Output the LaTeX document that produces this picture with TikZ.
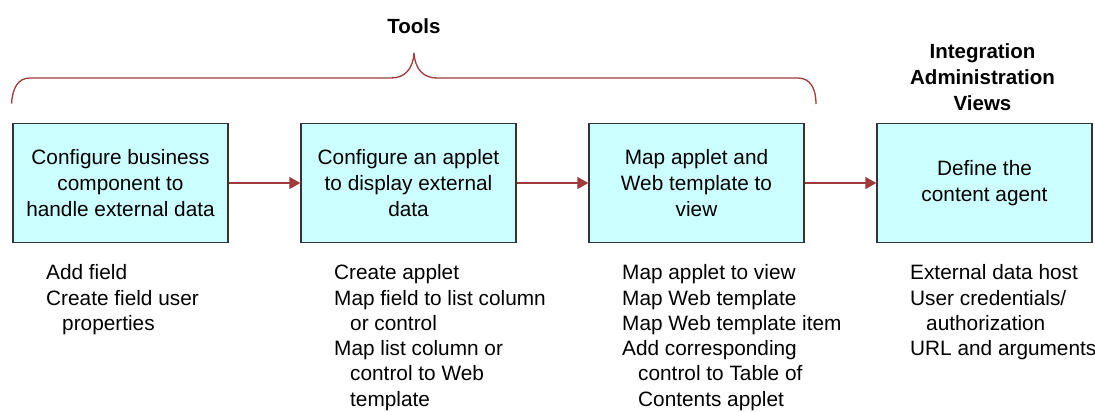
\documentclass[tikz,border=0pt]{standalone}
\usepackage{fontspec}
\setmainfont{Liberation Sans}
\usepackage{tikz}
\usetikzlibrary{arrows.meta}
\definecolor{boxfill}{HTML}{CCFFFF}
\definecolor{boxline}{HTML}{333333}
\definecolor{linered}{HTML}{9E3A3A}
\tikzstyle{block} = [rectangle, draw=boxline, fill=boxfill, align=center,
minimum width=215pt, minimum height=119pt, node distance=288pt, line width=1.3pt,
font=\fontsize{20.8}{26}\selectfont]
\tikzstyle{list} = [anchor=north west, inner sep=0pt, align=left, node distance=81.5pt,
xshift=-74.5pt, font=\fontsize{20.8}{25.3}\selectfont]
\tikzstyle{head} = [anchor=base, inner sep=0pt, align=center,
font=\fontsize{20.5}{26}\selectfont\bfseries]
\tikzstyle{line} = [draw=linered, -{Triangle[length=11pt,width=12pt]}, line width=1.6pt]
\tikzstyle{brace} = [draw=linered, line width=1.3pt]

\begin{document}
\begin{tikzpicture}[x=1pt,y=1pt]
\useasboundingbox (0,0) rectangle (1095,-412);
% Place nodes
	\node [block] (busComp) at (120.5,-183) {Configure business\\component to\\handle external data};
	\node [block, right of=busComp] (applet) {Configure an applet\\to display external\\data};
	\node [block, right of=applet] (mapView) {Map applet and\\Web template to\\view};
	\node [block, right of=mapView] (agent) {Define the\\content agent};

% Task lists under the boxes
	\node [below of=busComp, list] (busTasks) {Add field\\Create field user\\\hspace*{16pt}properties};
	\node [below of=applet, list] (appletTasks) {Create applet\\Map field to list column\\\hspace*{16pt}or control\\Map list column or\\\hspace*{16pt}control to Web\\\hspace*{16pt}template};
	\node [below of=mapView, list] (viewTasks) {Map applet to view\\Map Web template\\Map Web template item\\Add corresponding\\\hspace*{16pt}control to Table of\\\hspace*{16pt}Contents applet};
	\node [below of=agent, list] (agentTasks) {External data host\\User credentials/\\\hspace*{16pt}authorization\\URL and arguments};

% Brace and headings
	\coordinate (braceL) at (11.6,-103.5);
	\coordinate (braceTip) at (414,-52.6);
	\coordinate (braceR) at (816,-104);
	\path [brace] (braceL) .. controls (12.5,-88) and (18,-78) .. (30,-78) -- (391,-78)
		.. controls (404,-78) and (413,-70) .. (braceTip)
		.. controls (415,-70) and (424,-78) .. (437,-78) -- (798,-78)
		.. controls (810,-78) and (816,-88) .. (braceR);
	\node [above of=braceTip, head, node distance=19.3pt] (tools) {Tools};
	\node [above of=agent, head, anchor=north, node distance=139.4pt, xshift=-2pt] (views) {Integration\\Administration\\Views};

% Draw edges
	\path [line] (busComp) -- (applet);
	\path [line] (applet) -- (mapView);
	\path [line] (mapView) -- (agent);

\end{tikzpicture}
\end{document}
